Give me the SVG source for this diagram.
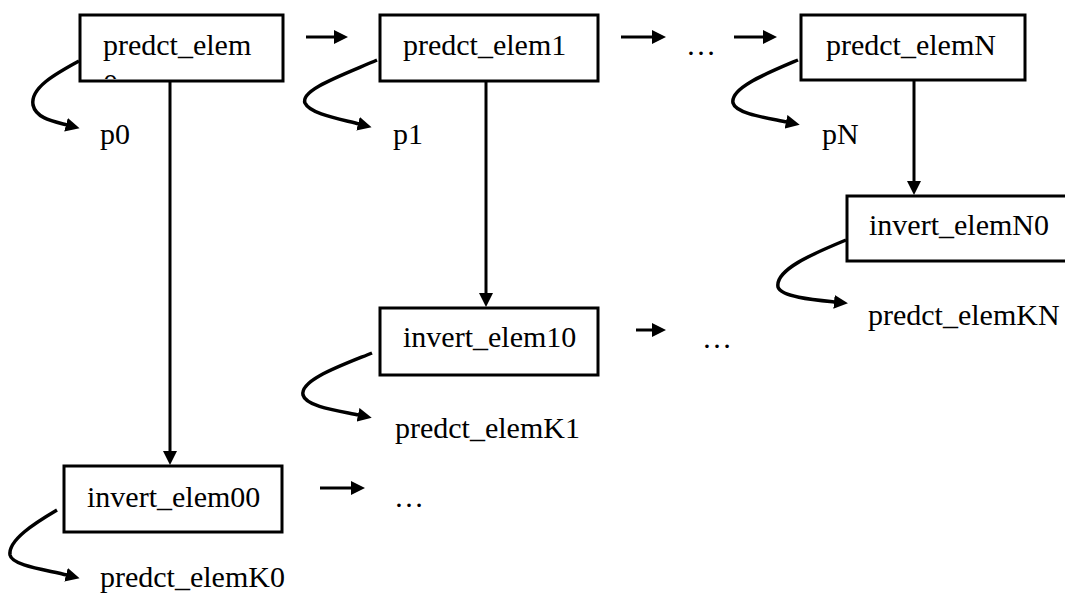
<svg xmlns="http://www.w3.org/2000/svg" width="1065" height="601" viewBox="0 0 1065 601">
<style>
.box{fill:#fff;stroke:#000;stroke-width:3}
.t{font-size:30px;fill:#000}
.c{fill:none;stroke:#000;stroke-width:3}
.cv{fill:none;stroke:#000;stroke-width:3.5}
</style>
<defs>
<marker id="ah" markerUnits="userSpaceOnUse" markerWidth="15" markerHeight="14" refX="1" refY="7" orient="auto">
<path d="M0,0 L14,7 L0,14 z" fill="#000"/>
</marker>
<clipPath id="clip0"><rect x="81" y="16" width="200" height="63"/></clipPath>
</defs>
<rect width="1065" height="601" fill="#fff"/>
<g font-family="'Liberation Serif', 'Times New Roman', 'DejaVu Serif', serif">
<g id="n_predct_elem0">
<rect class="box" x="80" y="15" width="203" height="66"/>
<text class="t" x="103" y="55">predct_elem</text>
<text class="t" x="103" y="93.5" clip-path="url(#clip0)">0</text>
</g>
<g id="n_predct_elem1">
<rect class="box" x="380" y="15" width="218" height="66"/>
<text class="t" x="403" y="55">predct_elem1</text>
</g>
<g id="n_predct_elemN">
<rect class="box" x="801" y="15" width="224" height="65"/>
<text class="t" x="826" y="55">predct_elemN</text>
</g>
<g id="n_invert_elemN0">
<rect class="box" x="847" y="196" width="230" height="65"/>
<text class="t" x="869" y="235">invert_elemN0</text>
</g>
<g id="n_invert_elem10">
<rect class="box" x="380" y="308" width="218" height="67"/>
<text class="t" x="403" y="347">invert_elem10</text>
</g>
<g id="n_invert_elem00">
<rect class="box" x="64" y="466" width="218" height="66"/>
<text class="t" x="87" y="507">invert_elem00</text>
</g>
<g id="labels">
<text class="t" x="100" y="144">p0</text>
<text class="t" x="393" y="144">p1</text>
<text class="t" x="822" y="144">pN</text>
<text class="t" x="868" y="325">predct_elemKN</text>
<text class="t" x="395" y="438">predct_elemK1</text>
<text class="t" x="100" y="587">predct_elemK0</text>
<text class="t" x="686" y="55">…</text>
<text class="t" x="702" y="348">…</text>
<text class="t" x="394" y="507">…</text>
</g>
</g>
<g id="connectors">
<line class="c" x1="306" y1="37" x2="335" y2="37" marker-end="url(#ah)"/>
<line class="c" x1="621" y1="37" x2="653" y2="37" marker-end="url(#ah)"/>
<line class="c" x1="734" y1="37" x2="764" y2="37" marker-end="url(#ah)"/>
<line class="c" x1="636" y1="330" x2="653" y2="330" marker-end="url(#ah)"/>
<line class="c" x1="320" y1="488" x2="352" y2="488" marker-end="url(#ah)"/>
<line class="c" x1="170" y1="81" x2="170" y2="452" marker-end="url(#ah)"/>
<line class="c" x1="486" y1="81" x2="486" y2="294" marker-end="url(#ah)"/>
<line class="c" x1="914" y1="80" x2="914" y2="182" marker-end="url(#ah)"/>
<path class="cv" d="M79,61 C55,74 30,88 33,105 C36,118 52,121 67,125" marker-end="url(#ah)"/>
<path class="cv" d="M377,60 C340,76 300,90 305,103 C310,114 340,119 359,124" marker-end="url(#ah)"/>
<path class="cv" d="M798,60 C765,74 730,88 733,103 C736,114 768,118 787,122" marker-end="url(#ah)"/>
<path class="cv" d="M846,240 C812,254 775,270 778,287 C781,297 815,300 835,302" marker-end="url(#ah)"/>
<path class="cv" d="M372,353 C340,366 300,380 303,395 C306,407 340,411 359,415" marker-end="url(#ah)"/>
<path class="cv" d="M57,510 C35,523 8,540 10,555 C12,566 48,570 67,575" marker-end="url(#ah)"/>
</g>
</svg>
